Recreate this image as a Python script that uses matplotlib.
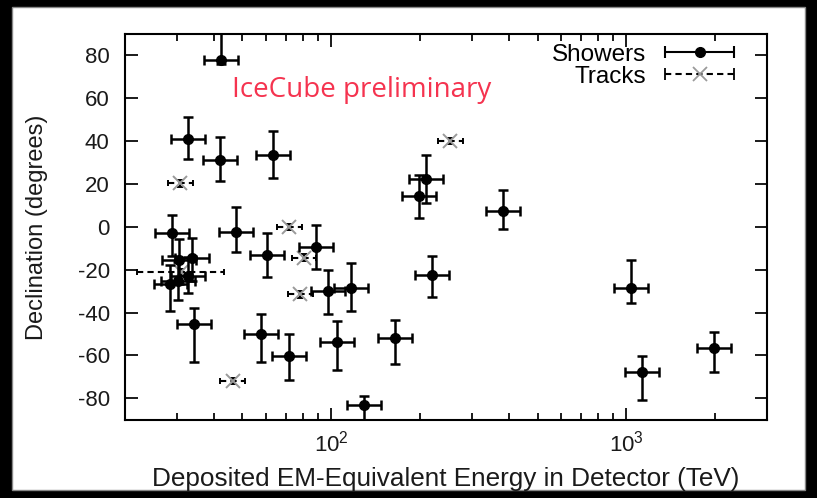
import numpy as np
import matplotlib.pyplot as plt
from matplotlib.legend_handler import HandlerErrorbar
from matplotlib.ticker import FixedLocator, LogLocator, NullFormatter

plt.rcParams['font.family'] = ['Liberation Sans', 'DejaVu Sans']
plt.rcParams['mathtext.fontset'] = 'custom'
plt.rcParams['mathtext.rm'] = 'Liberation Sans'
plt.rcParams['axes.unicode_minus'] = False

# cascade-like events (showers): energy [TeV], declination [deg]
shower_E = [42.3, 32.8, 42.1, 63.7, 28.9, 47.5, 60.5, 88.5, 97.4, 116.8,
            210, 199, 382, 219, 1034, 1132, 1986, 57.7, 71.9, 104.8,
            165, 128.9, 34.3, 30.5, 33.7, 28.5, 30.2, 32.6]
shower_dec = [78, 41, 31.3, 33.5, -3, -2.2, -13, -9.3, -30, -28.4,
              22.3, 14.3, 7.5, -22.5, -28.4, -67.8, -56.5, -50.2, -60.4, -53.5,
              -51.8, -83.3, -45.5, -15.6, -14.6, -26.8, -25.3, -23]
shower_E_lo = [5.2, 4.1, 5.2, 7.9, 3.6, 5.9, 7.5, 11, 12, 14.5,
               26, 24.7, 47, 27, 128, 140, 246, 7.2, 8.9, 13,
               20.5, 16, 4.3, 3.8, 4.2, 3.5, 3.7, 4.0]
shower_E_hi = [6.0, 4.6, 5.9, 9.0, 4.1, 6.7, 8.5, 12.5, 13.7, 16.5,
               30, 28, 54, 31, 146, 160, 280, 8.1, 10.1, 14.8,
               23.3, 18.2, 4.8, 4.3, 4.8, 4.0, 4.3, 4.6]
shower_dec_lo = [2, 9.5, 10, 10.5, 10.5, 9.5, 10.5, 10.5, 10.5, 11,
                 11, 10, 8.5, 10, 7.3, 12.8, 11.2, 12.8, 11, 13.4,
                 12.2, 7, 17.7, 11, 10.5, 12.5, 9, 8]
shower_dec_hi = [14, 10, 10.5, 11, 8.5, 11.5, 10, 10, 10, 11.5,
                 11, 10, 9.5, 9, 13, 7.5, 7.5, 9.7, 10.5, 9.4,
                 8.3, 4.5, 7.8, 10, 9.5, 9, 9, 9]

# track-like events
track_E = [253, 30.8, 72, 80.8, 78.5, 31, 46.3]
track_dec = [40, 20.3, 0, -14.4, -31.5, -21, -72]
track_E_lo = [23, 2.8, 6.6, 7.4, 7.2, 9, 4.3]
track_E_hi = [26, 3.1, 7.3, 8.2, 8.0, 12.3, 4.7]
track_dec_err = [1.5, 1.5, 1.5, 1.5, 1.5, 1.5, 1.5]

fig = plt.figure(figsize=(8.17, 4.98), dpi=100, facecolor='black')
# white page inside the dark border
fig.patches.append(plt.Rectangle((0.015, 0.016), 0.97, 0.97, transform=fig.transFigure,
                                 facecolor='white', edgecolor='#888888', lw=1, zorder=-10))
ax = fig.add_axes([0.153, 0.157, 0.786, 0.775])
ax.set_facecolor('white')

eb_s = ax.errorbar(shower_E, shower_dec, xerr=[shower_E_lo, shower_E_hi],
                   yerr=[shower_dec_lo, shower_dec_hi], fmt='o', color='black',
                   ms=7, elinewidth=1.8, capsize=3.6, capthick=1.8, zorder=3)
eb_t = ax.errorbar(track_E, track_dec, xerr=[track_E_lo, track_E_hi],
                   yerr=track_dec_err, fmt='x', color='black', mec='#9a9a9a',
                   ms=10, mew=1.4, elinewidth=1.5, capsize=2.5, capthick=1.5, zorder=2)
for b in eb_t[2]:
    b.set_linestyle((0, (3, 2)))

# legend samples: horizontal bars only
h_s = ax.errorbar([np.nan], [np.nan], xerr=[np.nan], fmt='o', color='black', ms=7,
                  elinewidth=1.5, capsize=4.5, capthick=1.5, label='Showers')
h_t = ax.errorbar([np.nan], [np.nan], xerr=[np.nan], fmt='x', color='black',
                  mec='#9a9a9a', ms=10, mew=1.3, elinewidth=1.5, capsize=4.5,
                  capthick=1.5, label='Tracks')
h_t[2][0].set_linestyle((0, (3, 2)))

ax.set_xscale('log')
ax.set_xlim(20, 3000)
ax.set_ylim(-90, 90)
ax.yaxis.set_major_locator(FixedLocator(np.arange(-80, 81, 20)))
ax.xaxis.set_major_locator(FixedLocator([100, 1000]))
ax.xaxis.set_minor_locator(LogLocator(base=10, subs=np.arange(2, 10), numticks=20))
ax.xaxis.set_minor_formatter(NullFormatter())
ax.set_xticklabels([r'$10^2$', r'$10^3$'])

ax.tick_params(which='both', direction='in', top=True, right=True, width=1.4,
               labelsize=16, colors='#1a1a1a')
ax.tick_params(which='major', length=9)
ax.tick_params(which='minor', length=5)
ax.tick_params(axis='y', pad=11)
ax.tick_params(axis='x', pad=8)
for s in ax.spines.values():
    s.set_linewidth(1.5)

ax.set_xlabel('Deposited EM-Equivalent Energy in Detector (TeV)', fontsize=18.8,
              color='#1a1a1a', labelpad=7)
ax.set_ylabel('Declination (degrees)', fontsize=17, color='#1a1a1a')
ax.yaxis.set_label_coords(-0.12, 0.5)

ax.text(0.167, 0.855, 'IceCube preliminary', transform=ax.transAxes, color='#f5334f',
        fontsize=20, family='Open Sans', va='center')

ax.legend(handles=[h_s, h_t], loc='upper right', bbox_to_anchor=(0.966, 1.0),
          frameon=False, markerfirst=False, fontsize=17.5, handlelength=2.95,
          handletextpad=0.75, labelspacing=0.0, borderaxespad=0.0,
          handler_map={type(h_s): HandlerErrorbar(xerr_size=1.42)})

fig.savefig('out.png', dpi=100, facecolor=fig.get_facecolor())
